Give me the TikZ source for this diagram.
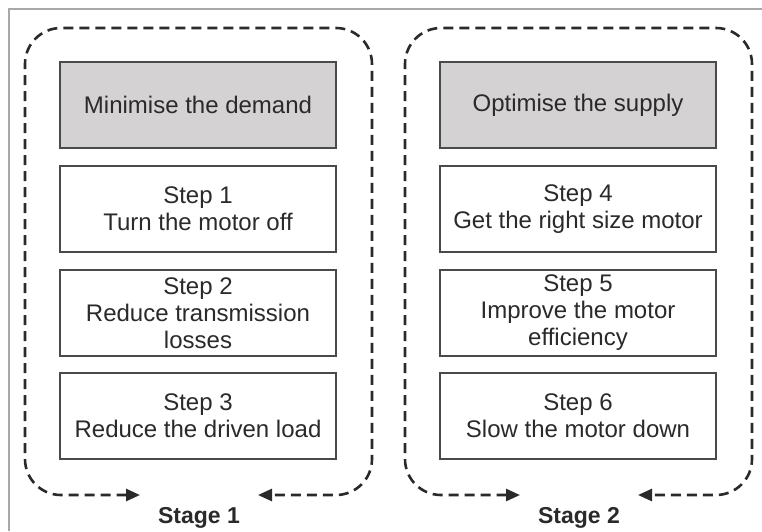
\documentclass[tikz,border=0pt]{standalone}
\usepackage{fontspec}
\setmainfont{Liberation Sans}
\usetikzlibrary{arrows.meta}
\definecolor{boxgray}{HTML}{D4D2D2}
\definecolor{edgegray}{HTML}{4A4A4A}
\definecolor{framegray}{HTML}{A8A8A8}
\definecolor{inkgray}{HTML}{2A2A2A}
\begin{document}
\begin{tikzpicture}[x=1pt,y=-1pt,
  stepbox/.style={draw=edgegray,line width=2.2pt,minimum width=276pt,minimum height=86pt,inner sep=0pt,align=center,font=\fontsize{24}{27}\selectfont,text=inkgray},
  headbox/.style={stepbox,fill=boxgray},
  loop/.style={draw=inkgray,line width=2.6pt,dash pattern=on 10pt off 6pt,rounded corners=36pt,{Triangle[length=14pt,width=12pt]}-{Triangle[length=14pt,width=12pt]}},
  stagelabel/.style={font=\bfseries\fontsize{23}{27}\selectfont,text=inkgray}]
\useasboundingbox (0,0) rectangle (762,531);
\fill[white] (0,0) rectangle (762,531);
\draw[framegray,line width=2.5pt] (9,531) -- (9,9) -- (762,9);
% stage 1
\node[headbox] (h1) at (198,105) {Minimise the demand};
\node[stepbox] (s1) at (198,209) {Step 1\\Turn the motor off};
\node[stepbox] (s2) at (198,313) {Step 2\\Reduce transmission\\losses};
\node[stepbox] (s3) at (198,416) {Step 3\\Reduce the driven load};
\coordinate (a1) at (140,495);
\coordinate (b1) at (258,495);
\draw[loop] (a1) -- (25,495) -- (25,28) -- (372,28) -- (372,495) -- (b1);
\node[stagelabel] (l1) at (199,518) {Stage 1};
% stage 2
\node[headbox] (h2) at (578,105) {Optimise the supply};
\node[stepbox] (s4) at (578,209) {Step 4\\Get the right size motor};
\node[stepbox] (s5) at (578,313) {Step 5\\Improve the motor\\efficiency};
\node[stepbox] (s6) at (578,416) {Step 6\\Slow the motor down};
\coordinate (a2) at (520,495);
\coordinate (b2) at (638,495);
\draw[loop] (a2) -- (405,495) -- (405,28) -- (752,28) -- (752,495) -- (b2);
\node[stagelabel] (l2) at (579,518) {Stage 2};
\end{tikzpicture}
\end{document}
